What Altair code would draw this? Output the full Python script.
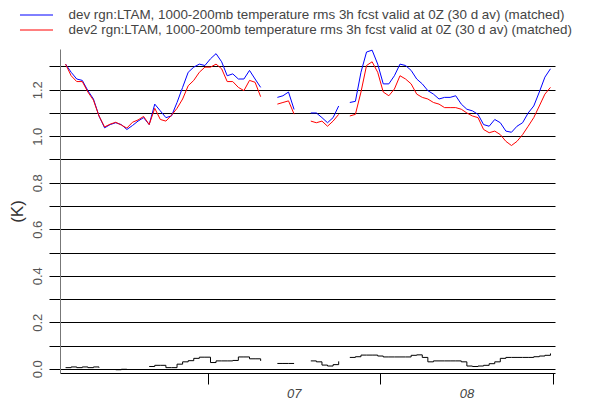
import altair as alt
import pandas as pd

# ---- data ----
start_date = "2015-06-05T12:00:00Z"
n_days = 88

dev = [1.31, 1.275, 1.246, 1.24, 1.196, 1.16, 1.087, 1.036, 1.05, 1.058,
       1.05, 1.029, 1.046, 1.065, 1.08, 1.05, 1.138, 1.109, 1.08, 1.087,
       1.145, 1.21, 1.275, 1.297, 1.31, 1.304, 1.333, 1.355, 1.32, 1.26,
       1.268, 1.246, 1.246, 1.283, 1.246, 1.21, None, None, 1.167, 1.174,
       1.19, 1.115, None, None, 1.10, 1.10, 1.08, 1.058, 1.08, 1.13,
       None, 1.145, 1.15, 1.275, 1.362, 1.37, 1.31, 1.225, 1.225, 1.26,
       1.31, 1.304, 1.283, 1.246, 1.225, 1.196, 1.181, 1.16, 1.167, 1.167,
       1.174, 1.138, 1.116, 1.109, 1.094, 1.05, 1.043, 1.072, 1.058, 1.022,
       1.017, 1.043, 1.058, 1.10, 1.13, 1.19, 1.254, 1.29]

dev2 = [1.31, 1.26, 1.235, 1.235, 1.19, 1.155, 1.087, 1.04, 1.052, 1.06,
        1.048, 1.035, 1.06, 1.07, 1.085, 1.05, 1.12, 1.072, 1.065, 1.09,
        1.12, 1.16, 1.217, 1.24, 1.275, 1.297, 1.297, 1.31, 1.29, 1.235,
        1.235, 1.21, 1.196, 1.24, 1.232, 1.17, None, None, 1.138, 1.145,
        1.152, 1.095, None, None, 1.065, 1.058, 1.065, 1.043, 1.065, 1.094,
        None, 1.087, 1.094, 1.19, 1.304, 1.32, 1.275, 1.19, 1.174, 1.203,
        1.26, 1.246, 1.225, 1.181, 1.167, 1.16, 1.145, 1.138, 1.123, 1.123,
        1.123, 1.116, 1.10, 1.087, 1.08, 1.029, 1.015, 1.022, 1.007, 0.978,
        0.96, 0.978, 1.007, 1.043, 1.08, 1.13, 1.181, 1.21]

diff = [0.005, 0.008, 0.005, 0.008, 0.005, 0.008, 0.005, None, None, -0.004,
        -0.002, -0.005, None, None, None, 0.01, 0.015, 0.015, 0.005, 0.005,
        0.02, 0.03, 0.035, 0.045, 0.05, 0.05, 0.027, 0.034, 0.034, 0.034,
        0.036, 0.051, 0.051, 0.043, 0.043, 0.034, None, None, 0.023, 0.023,
        0.023, 0.023, None, None, 0.034, 0.03, 0.016, 0.012, 0.018, 0.032,
        None, 0.049, 0.052, 0.059, 0.059, 0.059, 0.055, 0.051, 0.051, 0.051,
        0.051, 0.051, 0.058, 0.06, 0.049, 0.03, 0.034, 0.034, 0.034, 0.034,
        0.034, 0.03, 0.012, 0.01, 0.012, 0.015, 0.022, 0.03, 0.045, 0.049,
        0.049, 0.049, 0.049, 0.049, 0.052, 0.055, 0.058, 0.066]

name_dev = "dev rgn:LTAM, 1000-200mb temperature rms 3h fcst valid at 0Z (30 d av) (matched)"
name_dev2 = "dev2 rgn:LTAM, 1000-200mb temperature rms 3h fcst valid at 0Z (30 d av) (matched)"
y_ticks = [0.0, 0.1, 0.2, 0.3, 0.4, 0.5, 0.6, 0.7, 0.8, 0.9, 1.0, 1.1, 1.2, 1.3]

dates = pd.date_range(start_date, periods=n_days, freq="D").strftime("%Y-%m-%dT%H:%M:%SZ")


def segments(name, values):
    rows, seg = [], 0
    for d, v in zip(dates, values):
        if v is None:
            seg += 1
            continue
        rows.append({"date": d, "value": v, "series": name, "seg": f"{name[:4]}{seg}"})
    return rows


main_df = pd.DataFrame(segments(name_dev, dev) + segments(name_dev2, dev2))
diff_df = pd.DataFrame(segments("diff", diff))

x_scale = alt.Scale(
    type="utc",
    domain=[alt.DateTime(year=2015, month=6, date=4, hours=12, utc=True),
            alt.DateTime(year=2015, month=9, date=1, hours=7, minutes=30, utc=True)],
)
y_scale = alt.Scale(domain=[-0.018, 1.375], nice=False, zero=False)

x_axis = alt.Axis(
    values=[alt.DateTime(year=2015, month=7, date=1, utc=True),
            alt.DateTime(year=2015, month=8, date=1, utc=True),
            alt.DateTime(year=2015, month=9, date=1, utc=True)],
    labelExpr="utcFormat(datum.value, '%m') == '09' ? '' : utcFormat(datum.value, '%m')",
    grid=False, tickSize=11, tickColor="black", domainColor="black",
    labelOffset=86, labelFlush=False, labelOverlap=False, labelBound=False,
    labelFontStyle="italic", labelFontSize=13, labelColor="#444", labelPadding=3,
    title=None,
)
y_axis = alt.Axis(
    values=y_ticks,
    labelExpr="round(datum.value * 10) % 2 == 0 ? format(datum.value, '.1f') : ''",
    grid=True, gridColor="black", gridWidth=1, gridOpacity=1,
    tickSize=11, tickColor="black", domainColor="#777",
    labelAngle=270, labelPadding=5, labelFontSize=13, labelColor="#555",
    labelOverlap=False, labelBound=False,
    title="(K)", titleFontSize=17, titleFontWeight="normal", titleColor="#333",
    titlePadding=5,
)

lines = alt.Chart(main_df).mark_line(strokeWidth=1, interpolate="linear").encode(
    x=alt.X("date:T", scale=x_scale, axis=x_axis),
    y=alt.Y("value:Q", scale=y_scale, axis=y_axis),
    color=alt.Color(
        "series:N",
        scale=alt.Scale(domain=[name_dev, name_dev2], range=["#0000ff", "#ff0000"]),
        legend=alt.Legend(
            title=None, orient="none", legendX=-30.5, legendY=-41,
            symbolType="M-2.54,0H2.54", symbolSize=169, symbolStrokeWidth=1,
            labelFontSize=13.4, labelColor="#444", labelLimit=700,
            labelOffset=25, rowPadding=1,
        ),
    ),
    detail="seg:N",
)

diff_line = alt.Chart(diff_df).mark_line(strokeWidth=1, interpolate="step-after", color="black").encode(
    x=alt.X("date:T", scale=x_scale, axis=x_axis),
    y=alt.Y("value:Q", scale=y_scale, axis=y_axis),
    detail="seg:N",
)

chart = alt.layer(lines, diff_line).properties(
    width=495, height=324,
    autosize=alt.AutoSizeParams(type="none"),
    padding={"left": 52, "top": 41, "right": 27, "bottom": 27},
).configure(font="Liberation Sans").configure_view(stroke=None)

chart.save("out.html", embed_options={"renderer": "svg", "actions": False})
